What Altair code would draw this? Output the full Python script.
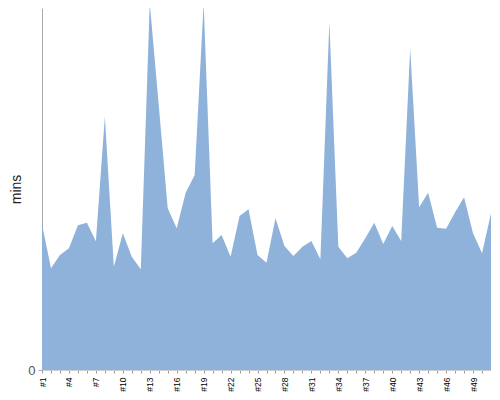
import altair as alt
import pandas as pd

labels = ["#" + str(i) for i in range(1, 52)]
mins = [14.57, 10.17, 11.50, 12.17, 14.47, 14.73, 12.87, 25.33, 10.33, 13.67,
        11.33, 10.07, 36.7, 26.5, 16.17, 14.17, 17.73, 19.50, 36.7, 12.67,
        13.50, 11.33, 15.40, 16.07, 11.50, 10.73, 15.17, 12.40, 11.40, 12.33,
        12.90, 11.07, 34.83, 12.33, 11.17, 11.73, 13.17, 14.73, 12.60, 14.40,
        12.90, 32.17, 16.27, 17.73, 14.23, 14.13, 15.77, 17.27, 13.67, 11.67,
        15.67]

df = pd.DataFrame({"game": labels, "mins": mins})

chart = alt.Chart(df).mark_area(color="#8fb2db", clip=True, opacity=1).encode(
    x=alt.X("game:O", sort=labels, title=None,
            scale=alt.Scale(padding=0),
            axis=alt.Axis(labelAngle=-90, labelFontSize=8.5, labelColor="#000",
                          labelFont="Liberation Sans", labelOverlap=False,
                          labelExpr="toNumber(slice(datum.value, 1)) % 3 == 1 ? datum.value : ''",
                          tickSize=3, tickColor="#999", domainColor="#ccc",
                          labelPadding=4)),
    y=alt.Y("mins:Q", title="mins",
            scale=alt.Scale(domain=[0, 36.2], nice=False),
            axis=alt.Axis(values=[0], grid=False, labelFontSize=13, labelColor="#555",
                          labelFont="Liberation Sans", titleFont="Liberation Sans",
                          titleFontSize=14, titleFontWeight="normal", titleColor="#222",
                          tickSize=4, tickColor="#aaa", domainColor="#aaa",
                          titlePadding=4, labelPadding=3))
).properties(
    width=449, height=362,
    autosize=alt.AutoSizeParams(type="none"),
    padding={"left": 34, "top": 0, "right": 0, "bottom": 22}
).configure_view(stroke=None)

chart.save("out.html", embed_options={"renderer": "svg", "actions": False})
